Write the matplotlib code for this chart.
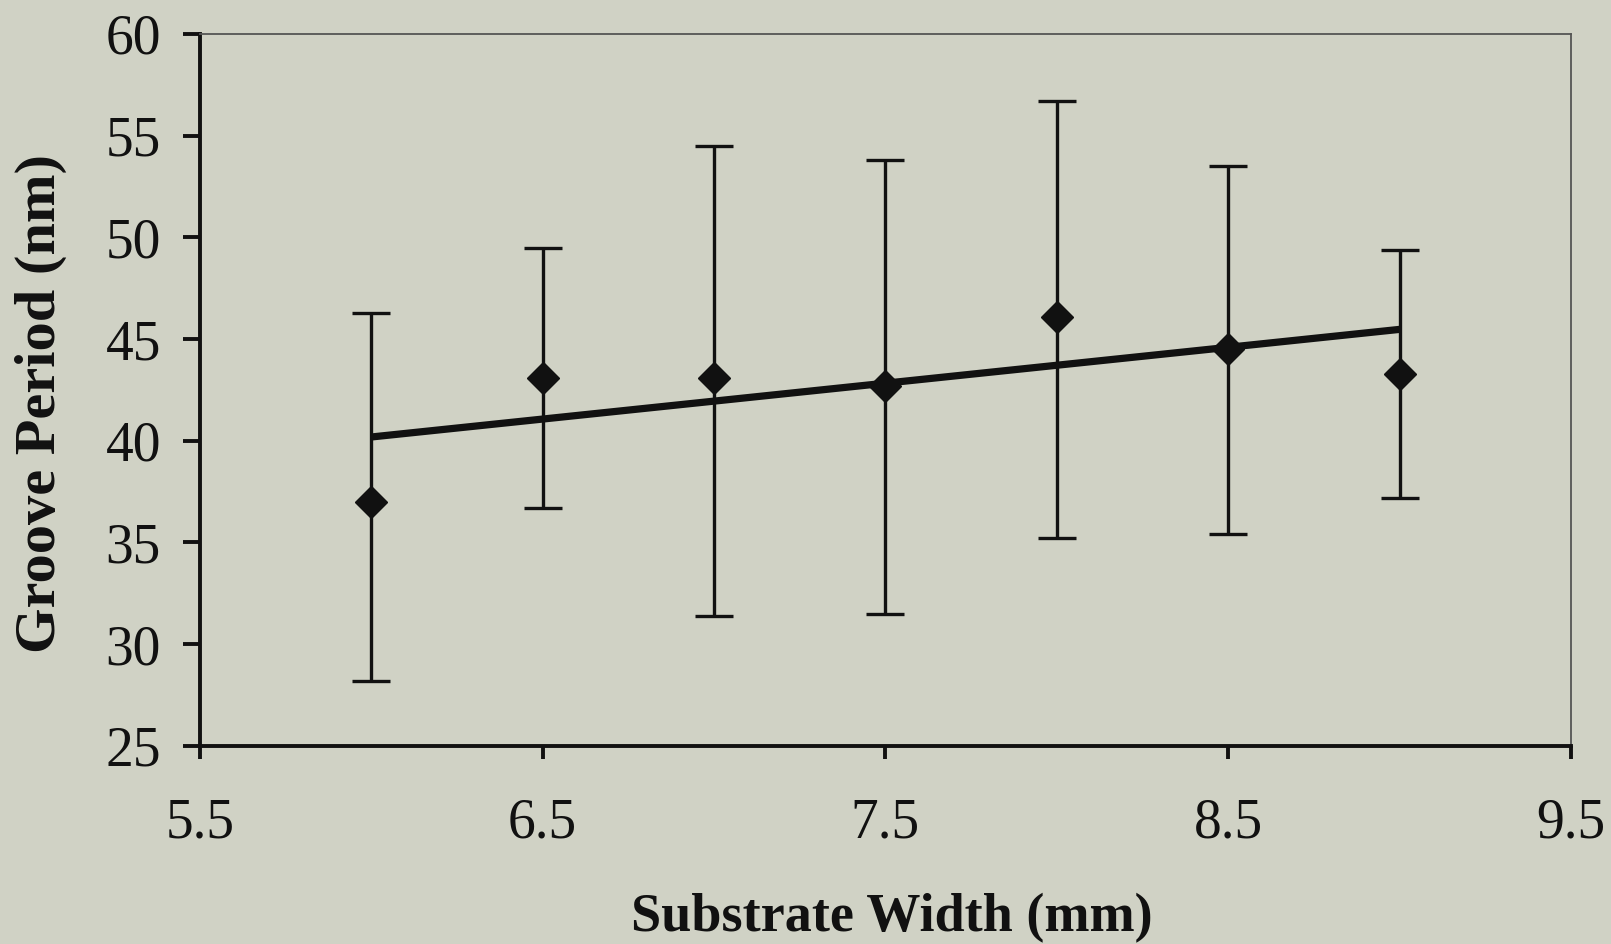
import numpy as np
import matplotlib
matplotlib.use("Agg")
import matplotlib.pyplot as plt

# Substrate width (mm) and groove period statistics (nm)
substrate_width = [6.0, 6.5, 7.0, 7.5, 8.0, 8.5, 9.0]
groove_period = [37.0, 43.1, 43.1, 42.7, 46.1, 44.5, 43.3]
period_upper = [46.3, 49.5, 54.5, 53.8, 56.7, 53.5, 49.4]
period_lower = [28.2, 36.7, 31.4, 31.5, 35.2, 35.4, 37.2]

x_ticks = [5.5, 6.5, 7.5, 8.5, 9.5]
y_ticks = [25, 30, 35, 40, 45, 50, 55, 60]

bg = "#d0d2c5"
ink = "#111111"
plt.rcParams["font.family"] = ["Liberation Serif", "DejaVu Serif"]

fig = plt.figure(figsize=(16.11, 9.44), dpi=100, facecolor=bg)
ax = fig.add_axes([0.1240, 0.210, 0.8512, 0.754], facecolor=bg)

x = np.array(substrate_width)
y = np.array(groove_period)
yerr = np.array([y - np.array(period_lower), np.array(period_upper) - y])

ax.errorbar(x, y, yerr=yerr, fmt="D", color=ink, ms=16,
            elinewidth=2.4, capsize=14, capthick=2.4, zorder=3)

# Linear trend line through the means
slope, intercept = np.polyfit(x, y, 1)
xt = np.array([x.min(), x.max()])
ax.plot(xt, slope * xt + intercept, color=ink, lw=5.2,
        solid_capstyle="butt", zorder=4)

ax.set_xlim(5.5, 9.5)
ax.set_ylim(25, 60)
ax.set_xticks(x_ticks)
ax.set_xticklabels([f"{t:g}" for t in x_ticks])
ax.set_yticks(y_ticks)

for side in ("left", "bottom"):
    ax.spines[side].set_linewidth(2.8)
    ax.spines[side].set_color(ink)
for side in ("top", "right"):
    ax.spines[side].set_linewidth(1.3)
    ax.spines[side].set_color("#555555")

ax.tick_params(axis="y", direction="out", length=12, width=2.8,
               labelsize=40, pad=16, colors=ink)
ax.tick_params(axis="x", direction="out", length=9, width=2.8,
               labelsize=40, pad=28, colors=ink)

# Axis titles
fig.text(0.5537, 0.0138, "Substrate Width (mm)", fontsize=39,
         fontweight="bold", color=ink, ha="center", va="baseline")
fig.text(0.0255, 0.573, "Groove Period (nm)", fontsize=42,
         fontweight="bold", color=ink, ha="center", va="center",
         rotation=90)

fig.savefig("out.png", dpi=100, facecolor=bg)
